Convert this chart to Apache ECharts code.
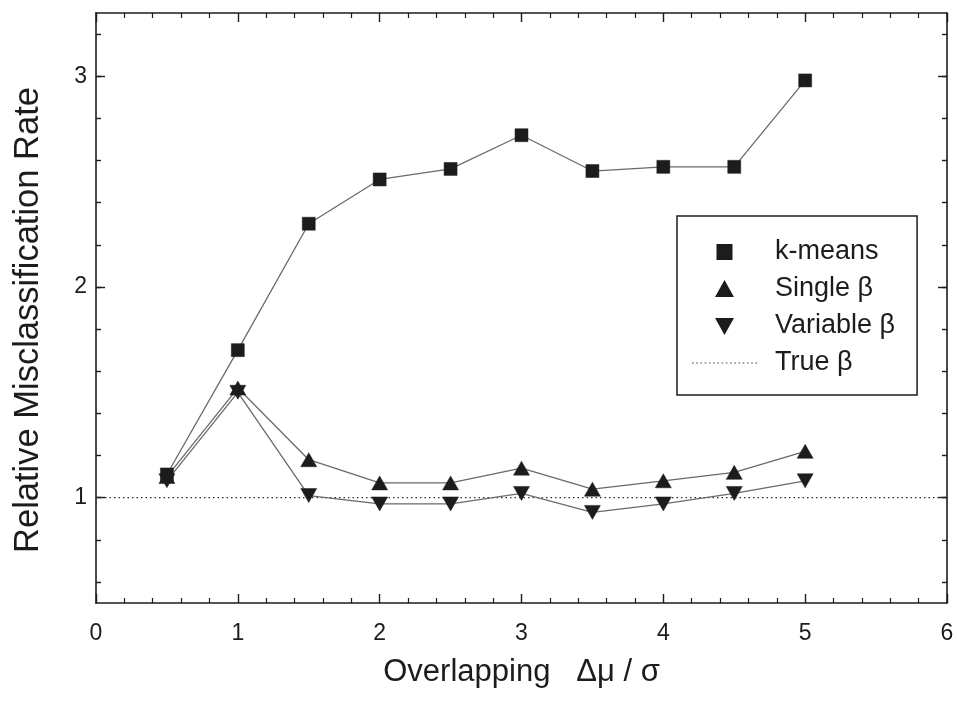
<!DOCTYPE html>
<html>
<head>
<meta charset="utf-8">
<script src="https://cdn.jsdelivr.net/npm/echarts@6/dist/echarts.min.js"></script>
<style>
  html, body { margin: 0; padding: 0; background: #fff; }
  #chart { width: 957px; height: 707px; }
</style>
</head>
<body>
<div id="chart"></div>
<script>
const xValues = [0.5, 1, 1.5, 2, 2.5, 3, 3.5, 4, 4.5, 5];
const kMeans = [1.11, 1.70, 2.30, 2.51, 2.56, 2.72, 2.55, 2.57, 2.57, 2.98];
const singleBeta = [1.10, 1.52, 1.18, 1.07, 1.07, 1.14, 1.04, 1.08, 1.12, 1.22];
const variableBeta = [1.08, 1.50, 1.01, 0.97, 0.97, 1.02, 0.93, 0.97, 1.02, 1.08];
const trueBetaX = [0, 6];
const trueBetaY = 1;
const seriesNames = ['k-means', 'Single β', 'Variable β', 'True β'];
const yRange = [0.5, 3.3];
const yMajorRange = [1, 3];     // labelled ticks
const yMinorRange = [0.6, 3.2]; // small ticks every 0.2

const FONT = '"Liberation Sans", Arial, Helvetica, sans-serif';
const INK = '#1c1c1c';
const LINE = '#6a6a6a';
const W = 957, H = 707;
const G = { left: 96, right: 10, top: 13, bottom: 104 };

const pair = (xs, ys) => xs.map((x, i) => [x, ys[i]]);

// v6 counts ticks from min, so tick axes sit in their own grids
// lined up with the main one
const pxPerUnit = (H - G.top - G.bottom) / (yRange[1] - yRange[0]);
const subGrid = r => ({
  left: G.left, right: G.right,
  top: G.top + (yRange[1] - r[1]) * pxPerUnit,
  bottom: G.bottom + (r[0] - yRange[0]) * pxPerUnit
});
const gridOf = box => Object.assign({ containLabel: false, outerBoundsMode: 'none' }, box);

// dotted legend icon for the reference line
let dots = '';
for (let i = 0; i < 16; i++) dots += 'M' + (i * 4) + ',0h1.5v1h-1.5z';

const axisLine = { show: true, onZero: false, lineStyle: { color: INK, width: 1.6 } };
const tickStyle = { color: INK, width: 1.4 };

function xAxisDef(pos, labels) {
  return {
    type: 'value', gridIndex: 0, position: pos, min: 0, max: 6, interval: 1,
    axisLine: axisLine,
    axisTick: { show: true, inside: true, length: 9, lineStyle: tickStyle },
    minorTick: { show: true, splitNumber: 5, length: 5, lineStyle: { color: INK, width: 1.2 } },
    splitLine: { show: false },
    axisLabel: labels ? { show: true, margin: 19, fontSize: 23, color: INK, fontFamily: FONT } : { show: false }
  };
}

function tickX(gridIndex) {
  return { type: 'value', gridIndex: gridIndex, min: 0, max: 6, show: false };
}

function tickY(gridIndex, pos, r, interval, len, labels) {
  return {
    type: 'value', gridIndex: gridIndex, position: pos, min: r[0], max: r[1], interval: interval,
    axisLine: { show: false },
    axisTick: { show: true, inside: true, length: len, lineStyle: tickStyle },
    splitLine: { show: false },
    axisLabel: labels ? { show: true, margin: 9, fontSize: 23, color: INK, fontFamily: FONT } : { show: false }
  };
}

const chart = echarts.init(document.getElementById('chart'));

const xBottom = xAxisDef('bottom', true);
xBottom.name = 'Overlapping   Δμ / σ';
xBottom.nameLocation = 'middle';
xBottom.nameGap = 54;
xBottom.nameTextStyle = { fontSize: 31, color: INK, fontFamily: FONT };

const yMain = {
  type: 'value', gridIndex: 0, position: 'left', min: yRange[0], max: yRange[1],
  axisLine: axisLine,
  axisTick: { show: false },
  axisLabel: { show: false },
  splitLine: { show: false },
  name: 'Relative Misclassification Rate',
  nameLocation: 'middle',
  nameRotate: 90,
  nameGap: 50,
  nameTextStyle: { fontSize: 34.5, color: INK, fontFamily: FONT, padding: [0, 24, 0, 0] }
};
const yMainRight = {
  type: 'value', gridIndex: 0, position: 'right', min: yRange[0], max: yRange[1],
  axisLine: axisLine, axisTick: { show: false }, axisLabel: { show: false }, splitLine: { show: false }
};

const symbolSeries = (name, ys, symbol, size, rotate) => ({
  name: name,
  type: 'line',
  data: pair(xValues, ys),
  symbol: symbol,
  symbolSize: size,
  symbolRotate: rotate || 0,
  showSymbol: true,
  xAxisIndex: 0,
  yAxisIndex: 0,
  itemStyle: { color: INK, borderColor: INK, borderWidth: 0.5 },
  lineStyle: { color: LINE, width: 1.3 },
  emphasis: { disabled: true },
  z: 3
});

chart.setOption({
  animation: false,
  backgroundColor: '#fff',
  textStyle: { fontFamily: FONT },
  grid: [gridOf(G), gridOf(subGrid(yMajorRange)), gridOf(subGrid(yMinorRange))],
  xAxis: [xBottom, xAxisDef('top', false), tickX(1), tickX(2)],
  yAxis: [
    yMain,
    yMainRight,
    tickY(1, 'left', yMajorRange, 1, 9, true),
    tickY(1, 'right', yMajorRange, 1, 9, false),
    tickY(2, 'left', yMinorRange, 0.2, 5, false),
    tickY(2, 'right', yMinorRange, 0.2, 5, false)
  ],
  legend: {
    orient: 'vertical',
    left: 677,
    top: 216,
    padding: [21, 22, 17, 15],
    itemWidth: 65,
    itemHeight: 14,
    itemGap: 7,
    borderColor: INK,
    borderWidth: 1.5,
    backgroundColor: '#fff',
    selectedMode: false,
    textStyle: { fontSize: 27, color: INK, fontFamily: FONT, lineHeight: 30, padding: [0, 0, 0, 13] },
    data: [
      { name: seriesNames[0], icon: 'path://M0,0h10v10h-10z', itemStyle: { color: INK } },
      { name: seriesNames[1], icon: 'path://M5,0L10,9L0,9Z', itemStyle: { color: INK } },
      { name: seriesNames[2], icon: 'path://M0,0L10,0L5,9Z', itemStyle: { color: INK } },
      { name: seriesNames[3], icon: 'path://' + dots, itemStyle: { color: '#444' } }
    ]
  },
  series: [
    {
      name: seriesNames[3],
      type: 'line',
      data: pair(trueBetaX, trueBetaX.map(() => trueBetaY)),
      symbol: 'none',
      lineStyle: { color: '#333', width: 1.4, type: [1.5, 3] },
      itemStyle: { color: '#444' },
      emphasis: { disabled: true },
      z: 2
    },
    symbolSeries(seriesNames[2], variableBeta, 'triangle', [16, 14], 180),
    symbolSeries(seriesNames[1], singleBeta, 'triangle', [16, 14]),
    symbolSeries(seriesNames[0], kMeans, 'rect', 13)
  ]
});
</script>
</body>
</html>
